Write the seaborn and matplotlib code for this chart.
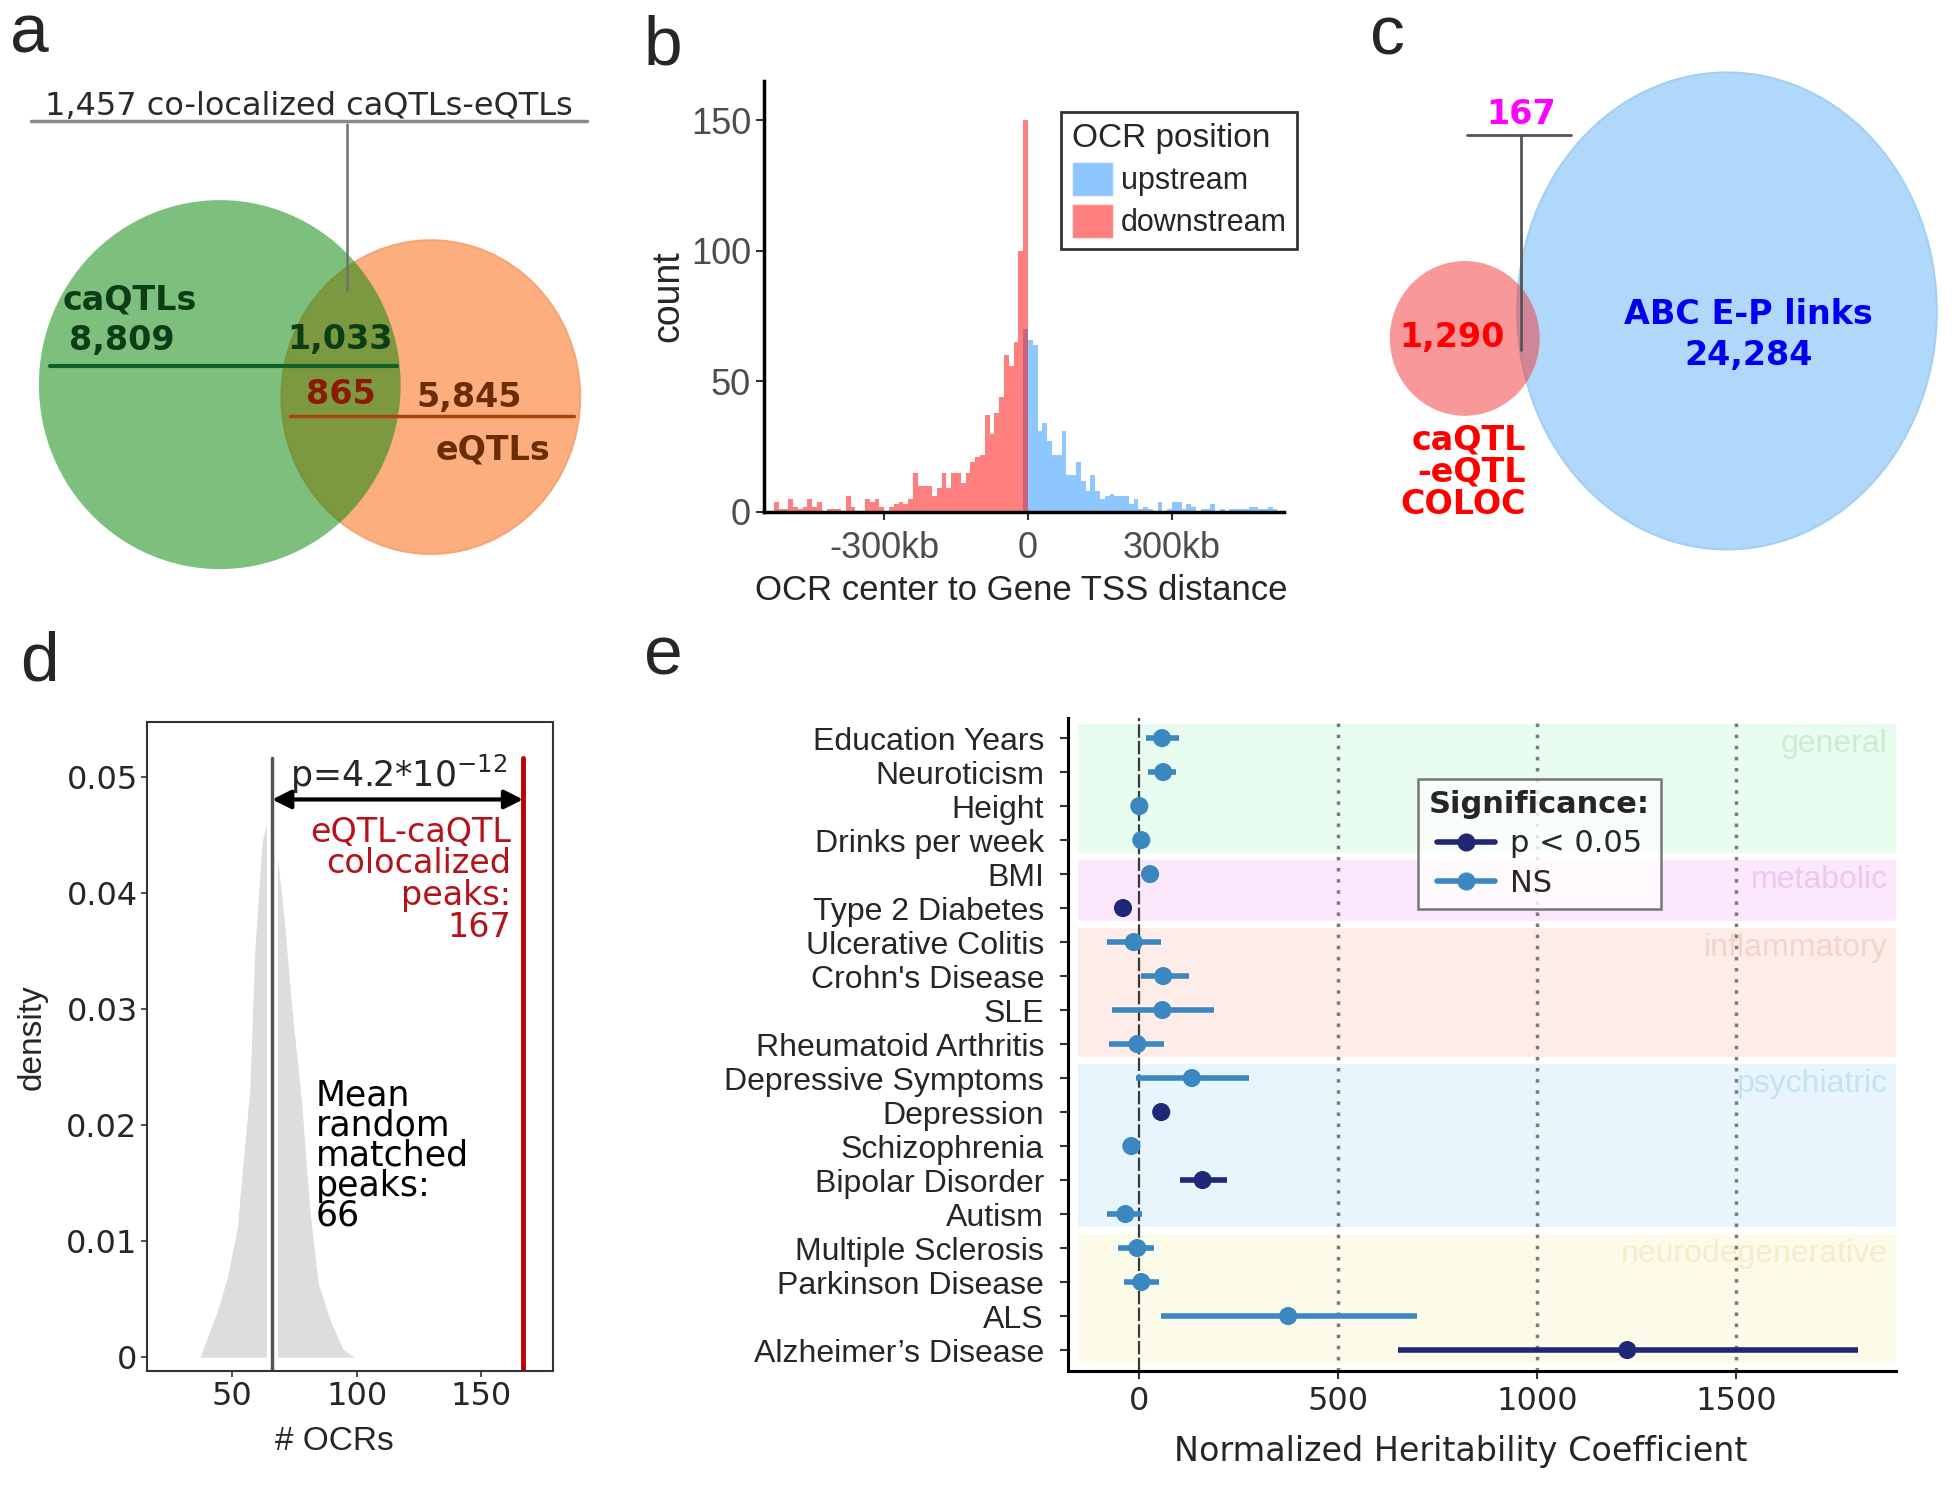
import numpy as np
import pandas as pd
import seaborn as sns
import matplotlib.pyplot as plt
from matplotlib.patches import Ellipse, Patch
from matplotlib.lines import Line2D

# ---------------- data ----------------
# a: caQTL / eQTL co-localization
caqtl_only = 8809
caqtl_shared = 1033
eqtl_shared = 865
eqtl_only = 5845
coloc_pairs = 1457

# c: overlap with ABC enhancer-promoter links
coloc_only = 1290
coloc_abc_shared = 167
abc_links = 24284

# b: OCR center to TSS distance, 10kb bins from -530kb
bin_edges_kb = list(range(-530, 521, 10))
downstream_counts = [4, 1, 1, 5, 2, 1, 2, 5, 2, 4,
                     0, 1, 1, 1, 0, 6, 2, 0, 0, 5,
                     4, 5, 2, 0, 2, 3, 4, 3, 5, 15,
                     10, 10, 10, 6, 9, 15, 9, 15, 15, 11,
                     15, 19, 21, 22, 37, 30, 38, 44, 60, 56,
                     65, 100, 150]
# first value is the -10..0 bin
upstream_counts = [70, 66, 64, 31, 34, 27, 22, 22, 31, 14,
                   14, 19, 12, 8, 14, 8, 5, 6, 7, 6,
                   6, 6, 3, 5, 1, 2, 1, 0, 4, 0,
                   1, 4, 4, 1, 3, 2, 0, 1, 1, 3,
                   0, 1, 0, 1, 1, 1, 1, 2, 2, 1,
                   1, 2, 1]

# d: null distribution of matched random peaks
density_x = [37, 44, 48, 52, 54, 57, 59, 62, 64, 67.5, 71, 74, 78, 81, 84.5, 89.5, 94.5, 99]
density_y = [0, 0.004, 0.0069, 0.0112, 0.016, 0.023, 0.035, 0.0445, 0.0462, 0.0445,
             0.0374, 0.030, 0.0217, 0.0131, 0.0064, 0.0031, 0.0007, 0]
mean_random_peaks = 66
observed_peaks = 167

# e: partitioned heritability
traits = ["Education Years", "Neuroticism", "Height", "Drinks per week", "BMI",
          "Type 2 Diabetes", "Ulcerative Colitis", "Crohn's Disease", "SLE",
          "Rheumatoid Arthritis", "Depressive Symptoms", "Depression", "Schizophrenia",
          "Bipolar Disorder", "Autism", "Multiple Sclerosis", "Parkinson Disease", "ALS",
          "Alzheimer’s Disease"]
coef = [57, 60, 0, 5, 27, -41, -14, 60, 58, -5, 132, 55, -20, 159, -35, -5, 5, 374, 1226]
ci_low = [16, 22, 0, 5, 27, -41, -80, 5, -69, -75, -9, 55, -20, 101, -80, -53, -38, 55, 651]
ci_high = [99, 93, 0, 5, 27, -41, 55, 124, 187, 63, 275, 55, -20, 220, 8, 38, 49, 697, 1805]
significance = ["NS", "NS", "NS", "NS", "NS", "p < 0.05", "NS", "NS", "NS", "NS",
                "NS", "p < 0.05", "NS", "p < 0.05", "NS", "NS", "NS", "NS", "p < 0.05"]
groups = ["general"] * 4 + ["metabolic"] * 2 + ["inflammatory"] * 4 + \
         ["psychiatric"] * 5 + ["neurodegenerative"] * 4

# ---------------- style ----------------
sns.set_style("ticks")
plt.rcParams["font.family"] = ["Liberation Sans", "DejaVu Sans"]
plt.rcParams["mathtext.default"] = "regular"
VER = "DejaVu Sans"

fig = plt.figure(figsize=(19.58, 14.86), dpi=100)
W, H = 1568, 1190


def rect(x0, y0, x1, y1):
    return [x0 / W, 1 - y1 / H, (x1 - x0) / W, (y1 - y0) / H]


ov = fig.add_axes([0, 0, 1, 1])
ov.set_xlim(0, W)
ov.set_ylim(H, 0)
ov.axis("off")

# panel letters
for lab, x, y in [("a", 8, 42), ("b", 515, 52), ("c", 1097, 44), ("d", 16, 545), ("e", 516, 540)]:
    ov.text(x, y, lab, fontsize=50, va="baseline", ha="left")

# ---------------- a: venn ----------------
k_a = 1.46
r_green = k_a * np.sqrt(caqtl_only + caqtl_shared)
r_orange = k_a * np.sqrt(eqtl_only + eqtl_shared)
ov.add_patch(Ellipse((345, 318), 2 * r_orange, 2.1 * r_orange, fc="#fdae7e", ec="#f7a472", lw=1.5))
ov.add_patch(Ellipse((176, 308), 2 * r_green, 2.04 * r_green, fc="#0a880a", alpha=0.53, ec="none"))

ov.text(247, 85, f"{coloc_pairs:,} co-localized caQTLs-eQTLs", ha="center", va="center",
        fontsize=23, color="#2a2a2a", family=VER)
ov.plot([25, 470], [97, 97], color="#8a8a8a", lw=2.5)
ov.plot([278, 278], [99, 232], color="#707070", lw=1.8)

bold = dict(fontsize=24, weight="bold", family=VER, va="center")
ov.text(50, 240, "caQTLs", ha="left", color="#0b3d16", **bold)
ov.text(55, 273, f"{caqtl_only:,}", ha="left", color="#0b3d16", **bold)
ov.text(272, 272, f"{caqtl_shared:,}", ha="center", color="#0b3d16", **bold)
ov.plot([40, 318], [293, 293], color="#14602a", lw=3)
ov.text(273, 316, f"{eqtl_shared:,}", ha="center", color="#8b1a00", **bold)
ov.text(376, 318, f"{eqtl_only:,}", ha="center", color="#6b2d05", **bold)
ov.plot([232, 460], [333, 333], color="#a8450c", lw=2.5)
ov.text(395, 360, "eQTLs", ha="center", color="#6b2d05", **bold)

# ---------------- c: venn ----------------
ov.add_patch(Ellipse((1383, 249), 336, 382, fc="#b0d8fa", ec="#a2cff5", lw=1.5))
ov.add_patch(Ellipse((1173, 271), 120, 124, fc=(0.95, 0.2, 0.2), alpha=0.5, ec="none"))
ov.text(1218, 92, f"{coloc_abc_shared}", ha="center", color="#ff00ff", **bold)
ov.plot([1175, 1258], [108, 108], color="#555555", lw=2)
ov.plot([1218, 1218], [108, 280], color="#555555", lw=2)
ov.text(1163, 270, f"{coloc_only:,}", ha="center", color="#ff0000", **bold)
ov.text(1400, 252, "ABC E-P links", ha="center", color="#0000ee", **bold)
ov.text(1400, 285, f"{abc_links:,}", ha="center", color="#0000ee", **bold)
ov.text(1222, 378, "caQTL\n-eQTL\nCOLOC", ha="right", multialignment="right",
        linespacing=0.97, color="#ff0000", **bold)

# ---------------- b: histogram ----------------
axb = fig.add_axes(rect(612, 65, 1028, 410))
centers = [e + 5 for e in bin_edges_kb[:-1]]
df_up = pd.DataFrame({"kb": centers[52:], "n": upstream_counts})
df_down = pd.DataFrame({"kb": centers[:53], "n": downstream_counts})
sns.histplot(data=df_up, x="kb", weights="n", bins=bin_edges_kb, color="dodgerblue",
             alpha=0.5, linewidth=0, ax=axb)
sns.histplot(data=df_down, x="kb", weights="n", bins=bin_edges_kb, color="red",
             alpha=0.5, linewidth=0, ax=axb)
axb.set_xlim(-550, 533)
axb.set_ylim(0, 165)
axb.set_yticks([0, 50, 100, 150])
axb.set_xticks([-300, 0, 300])
axb.set_xticklabels(["-300kb", "0", "300kb"])
axb.tick_params(labelsize=26, labelcolor="#4d4d4d", color="#333333", length=6, width=1.5)
axb.tick_params(axis="x", pad=8)
sns.despine(ax=axb)
for s in ["left", "bottom"]:
    axb.spines[s].set_linewidth(2.5)
    axb.spines[s].set_color("black")
axb.set_ylabel("count", fontsize=27)
axb.set_xlabel("OCR center to Gene TSS distance", fontsize=25)
axb.yaxis.set_label_coords(-0.15, 0.5)
axb.xaxis.set_label_coords(0.495, -0.145)
leg = axb.legend([Patch(fc="dodgerblue", alpha=0.5), Patch(fc="red", alpha=0.5)],
                 ["upstream", "downstream"], title="OCR position", loc="upper left",
                 bbox_to_anchor=(0.542, 0.963), frameon=True, fancybox=False,
                 edgecolor="black", fontsize=22, title_fontsize=24, handlelength=1.35,
                 handleheight=1.35, borderpad=0.35, labelspacing=0.25, handletextpad=0.25)
leg.get_frame().set_linewidth(2)
leg._legend_box.align = "left"

# ---------------- d: density ----------------
axd = fig.add_axes(rect(118, 578, 443, 1098))
axd.fill_between(density_x, density_y, color="#dddddd", lw=0)
axd.plot([mean_random_peaks] * 2, [-0.0012, 0.0517], color="white", lw=8)
axd.plot([mean_random_peaks] * 2, [-0.0012, 0.0517], color="#555555", lw=2.5)
axd.plot([observed_peaks] * 2, [-0.0012, 0.0517], color="#c00000", lw=3.5)
axd.annotate("", xy=(observed_peaks, 0.0481), xytext=(mean_random_peaks, 0.0481),
             arrowprops=dict(arrowstyle="<|-|>", lw=3, color="black", mutation_scale=28,
                             shrinkA=0, shrinkB=0))
axd.text(117, 0.0492, r"p=4.2*10$^{-12}$", ha="center", va="baseline", fontsize=25, family=VER)
axd.text(162.3, 0.0467, f"eQTL-caQTL\ncolocalized\npeaks:\n{observed_peaks}", ha="right",
         va="top", multialignment="right", linespacing=0.95, fontsize=24, color="#b5121b",
         family=VER)
axd.text(83.6, 0.0240, f"Mean\nrandom\nmatched\npeaks:\n{mean_random_peaks}", ha="left",
         va="top", linespacing=0.85, fontsize=25, color="black", family=VER)
axd.set_xlim(15.8, 179.1)
axd.set_ylim(-0.0012, 0.0548)
axd.set_yticks([0, 0.01, 0.02, 0.03, 0.04, 0.05])
axd.set_yticklabels(["0", "0.01", "0.02", "0.03", "0.04", "0.05"], family=VER)
axd.set_xticks([50, 100, 150])
axd.set_xticklabels(["50", "100", "150"], family=VER)
axd.tick_params(labelsize=23, length=4, width=1.2, color="#333333", pad=3)
for s in axd.spines.values():
    s.set_color("#333333")
    s.set_linewidth(1.5)
axd.set_ylabel("density", fontsize=24)
axd.set_xlabel("# OCRs", fontsize=24)
axd.yaxis.set_label_coords(-0.245, 0.515)
axd.xaxis.set_label_coords(0.46, -0.085)

# ---------------- e: forest plot ----------------
axe = fig.add_axes(rect(855, 575, 1518, 1098))
df_e = pd.DataFrame({"trait": traits, "coef": coef, "lo": ci_low, "hi": ci_high,
                     "sig": significance, "group": groups})
df_e["row"] = np.arange(len(df_e))
sig_palette = {"p < 0.05": "#1f2776", "NS": "#3b87c2"}

group_order = ["general", "metabolic", "inflammatory", "psychiatric", "neurodegenerative"]
band_fill = ["#e8fcef", "#fce8fc", "#fdece8", "#e8f5fc", "#fcfbea"]
band_text = ["#c6eed3", "#efc6ef", "#f4d4ca", "#c2e4f0", "#f6ecc6"]
for g, fc, tc in zip(group_order, band_fill, band_text):
    r = df_e.loc[df_e.group == g, "row"]
    top, bot = r.min() - 0.42, r.max() + 0.38
    axe.axhspan(top, bot, xmin=0.012, xmax=1, color=fc, lw=0, zorder=0)
    axe.text(1880, top + 0.15, g, ha="right", va="top", color=tc, fontsize=23, zorder=1)

for v in [500, 1000, 1500]:
    axe.axvline(v, color="#7a7a7a", lw=2.5, ls=(0, (1, 2.2)), zorder=1)
axe.axvline(0, color="#3a3a3a", lw=1.6, ls=(0, (6, 1.5)), zorder=1)

axe.hlines(df_e.row, df_e.lo, df_e.hi, colors=[sig_palette[s] for s in df_e.sig], lw=4, zorder=3)
sns.scatterplot(data=df_e, x="coef", y="row", hue="sig", palette=sig_palette, s=170,
                edgecolor="none", legend=False, ax=axe, zorder=4)
axe.set_xlim(-180, 1900)
axe.set_ylim(18.62, -0.59)
axe.set_yticks(df_e.row)
axe.set_yticklabels(traits, fontsize=23)
axe.set_xticks([0, 500, 1000, 1500])
axe.set_xticklabels(["0", "500", "1000", "1500"], family=VER, fontsize=23)
axe.tick_params(length=6, width=1.5, color="#333333")
axe.tick_params(axis="y", pad=11)
axe.tick_params(axis="x", pad=5)
sns.despine(ax=axe)
for s in ["left", "bottom"]:
    axe.spines[s].set_linewidth(2.2)
    axe.spines[s].set_color("black")
axe.set_ylabel("")
axe.set_xlabel("Normalized Heritability Coefficient", fontsize=24, family=VER)
axe.xaxis.set_label_coords(0.475, -0.098)
handles = [Line2D([0], [0], color=sig_palette[k], lw=4, marker="o", ms=12) for k in sig_palette]
lg = axe.legend(handles, list(sig_palette), title="Significance:", loc="upper left",
                bbox_to_anchor=(0.405, 0.93), frameon=True, fancybox=False,
                edgecolor="#555555", prop={"family": VER, "size": 22},
                handlelength=1.9, borderpad=0.35, labelspacing=0.35, handletextpad=0.5)
lg.get_title().set_fontproperties({"family": VER, "size": 22, "weight": "bold"})
lg.get_frame().set_linewidth(1.8)

fig.savefig("out.png", dpi=100)
